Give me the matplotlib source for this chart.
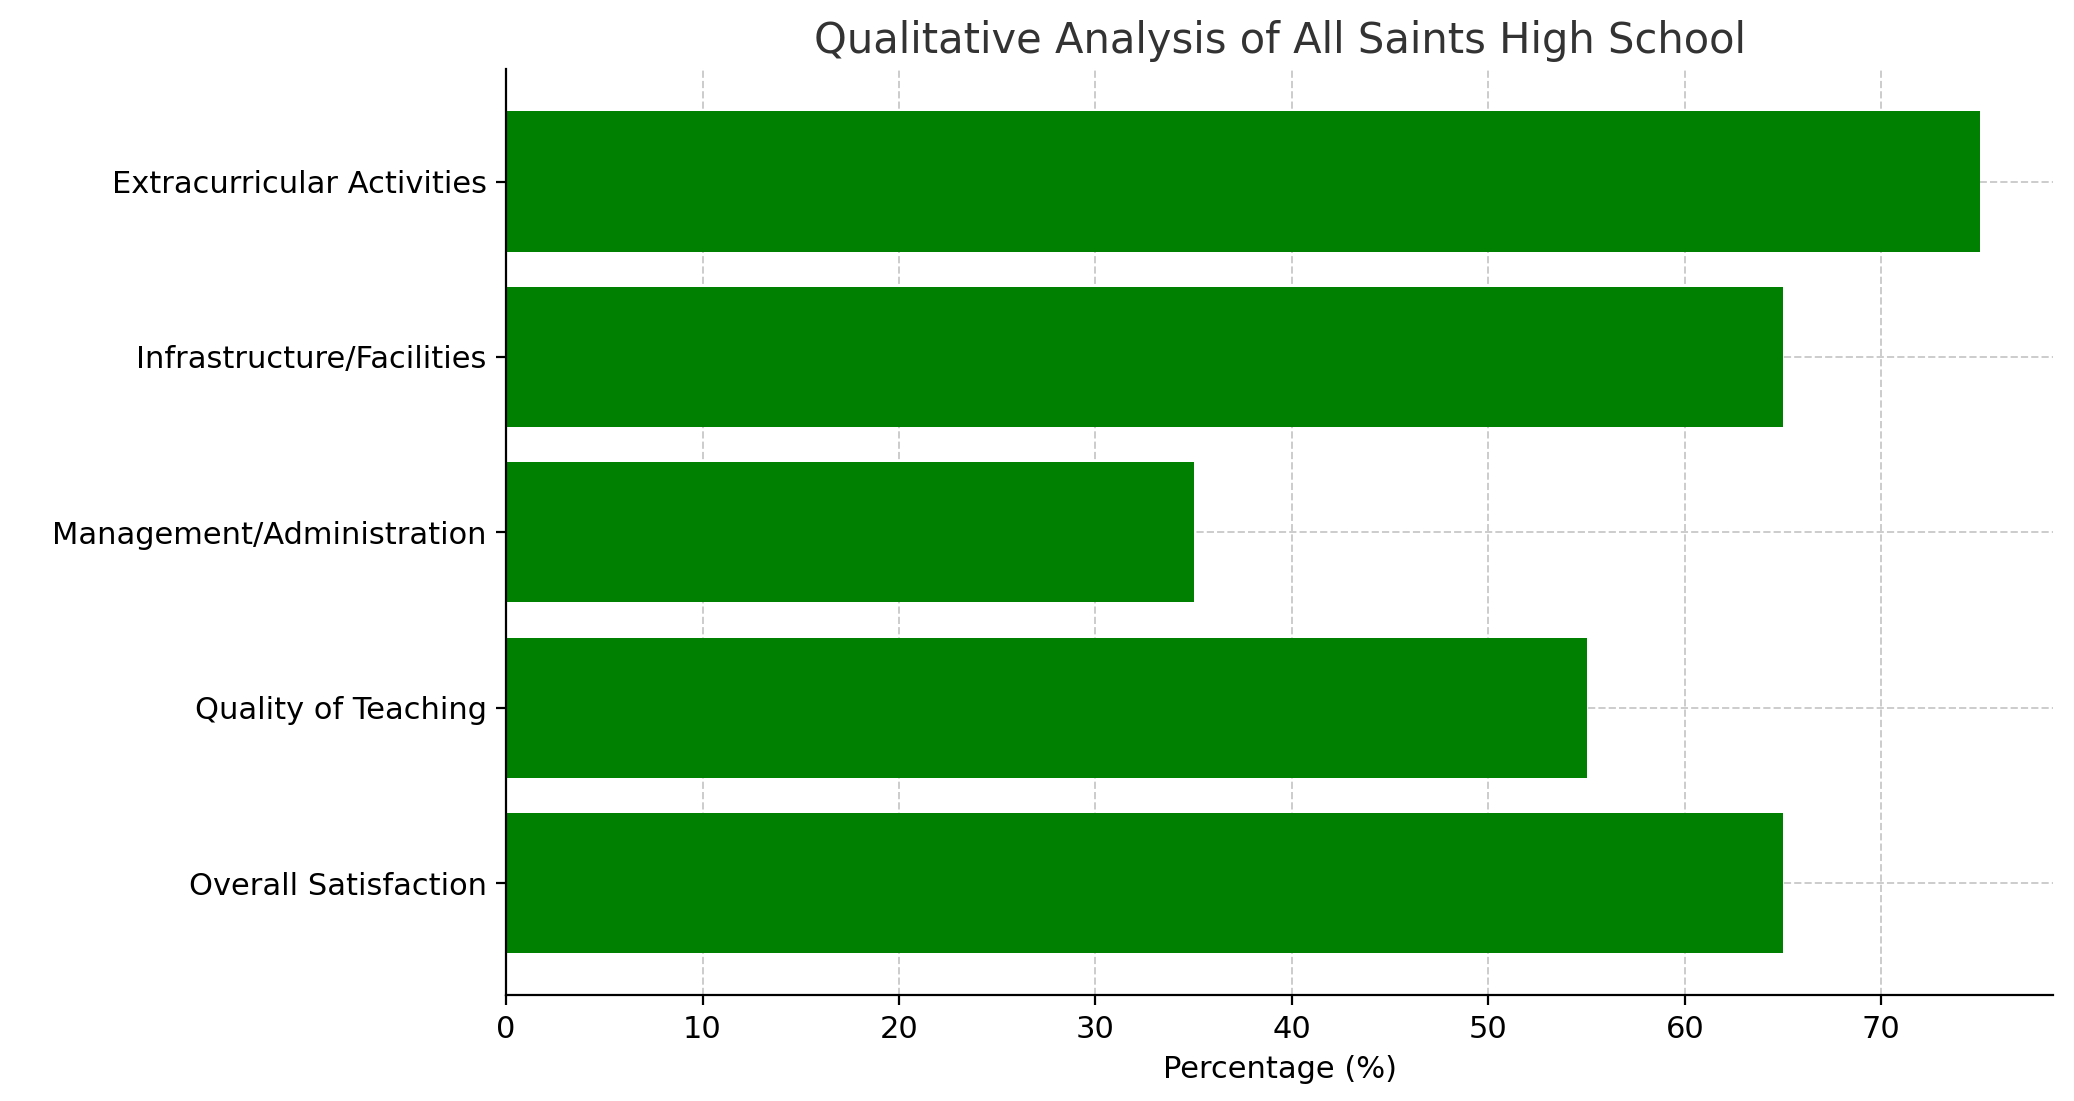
import matplotlib
matplotlib.use("Agg")
import matplotlib.pyplot as plt

categories = ["Overall Satisfaction", "Quality of Teaching", "Management/Administration",
              "Infrastructure/Facilities", "Extracurricular Activities"]
values = [65, 55, 35, 65, 75]

fig, ax = plt.subplots(figsize=(10.37, 5.505), dpi=200)
ax.barh(categories, values, color="green", zorder=2)
ax.set_xlabel("Percentage (%)", fontsize=11)
ax.set_title("Qualitative Analysis of All Saints High School", fontsize=15, color="#333333")
ax.tick_params(labelsize=11)
ax.grid(True, linestyle="--", color="#cccccc", linewidth=0.7, zorder=0)
ax.spines["top"].set_visible(False)
ax.spines["right"].set_visible(False)
fig.subplots_adjust(left=0.244, right=0.99, top=0.937, bottom=0.096)
fig.savefig("out.png", dpi=200)
